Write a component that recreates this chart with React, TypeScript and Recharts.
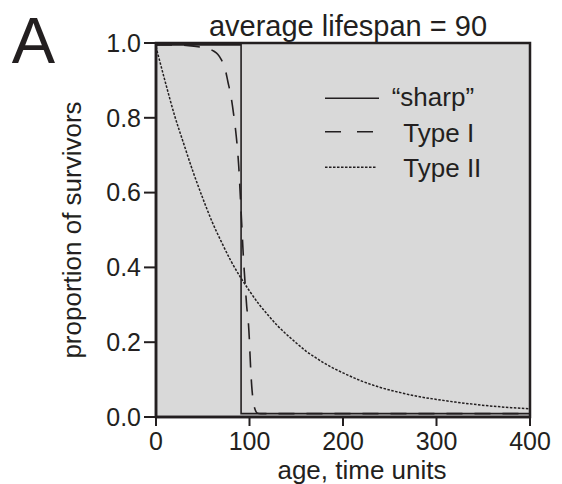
import React from 'react';
import { LineChart, Line, XAxis, YAxis, ReferenceArea, Legend } from 'recharts';

const INK = '#231f20';
const PANEL = '#d9d9d9';
const FONT = '"Liberation Sans", Arial, Helvetica, sans-serif';

const chartTitle = 'average lifespan = 90';
const panelLetter = 'A';
const xAxisTitle = 'age, time units';
const yAxisTitle = 'proportion of survivors';
const seriesNames = ['\u201Csharp\u201D', 'Type I', 'Type II'];

const xTicks = [0, 100, 200, 300, 400];
const yTicks = [0, 0.2, 0.4, 0.6, 0.8, 1.0];

const sharpAges = [0, 91, 91, 400];
const sharpSurvivors = [0.995, 0.995, 0.009, 0.009];

const typeIAges = [0, 20, 35, 45, 55, 62, 66, 70, 74, 77, 80, 83, 85, 87, 88.5, 90, 91.6, 93.4, 95.5, 97, 98.7, 99.8, 100.5, 101.3, 102.4, 104, 106, 108, 112, 400];
const typeISurvivors = [0.995, 0.995, 0.993, 0.99, 0.985, 0.978, 0.97, 0.955, 0.93, 0.895, 0.86, 0.81, 0.77, 0.72, 0.67, 0.6, 0.52, 0.43, 0.35, 0.296, 0.256, 0.21, 0.17, 0.127, 0.082, 0.042, 0.02, 0.011, 0.009, 0.009];

const typeIIAges = [0, 10, 20, 30, 40, 50, 60, 70, 80, 90, 100, 110, 120, 130, 140, 150, 160, 170, 180, 190, 200, 220, 240, 260, 280, 300, 320, 340, 360, 380, 400];
const typeIISurvivors = [0.99, 0.895, 0.805, 0.728, 0.653, 0.585, 0.522, 0.468, 0.418, 0.375, 0.337, 0.302, 0.272, 0.244, 0.22, 0.198, 0.177, 0.16, 0.144, 0.13, 0.118, 0.096, 0.079, 0.066, 0.055, 0.047, 0.04, 0.034, 0.029, 0.025, 0.022];

const zip = (ages: number[], values: number[]) => ages.map((age, i) => ({ age, value: values[i] }));

const sharpData = zip(sharpAges, sharpSurvivors);
const typeIData = zip(typeIAges, typeISurvivors);
const typeIIData = zip(typeIIAges, typeIISurvivors);

const dashes = ['', '16 16', '2.5 1.5'];

const renderLegend = () => (
  <svg width={230} height={120} style={{ display: 'block', overflow: 'visible' }}>
    {seriesNames.map((name, i) => {
      const lineY = [28.3, 61.7, 97.3][i];
      const lineEnd = [79, 74, 76.7][i];
      const textX = [91.7, 103.3, 103.3][i];
      const textY = [36, 71.7, 106.7][i];
      return (
        <g key={name}>
          <line x1={25} x2={lineEnd} y1={lineY} y2={lineY} stroke={INK} strokeWidth={1.6} strokeDasharray={dashes[i] || undefined} />
          <text x={textX} y={textY} fill={INK} fontSize={26} fontFamily={FONT}>{name}</text>
        </g>
      );
    })}
  </svg>
);

export default function App() {
  return (
    <div style={{ position: 'relative', width: 562, height: 484, background: '#fff' }}>
      <style>{`body{margin:0;}`}</style>
      <LineChart width={562} height={484} margin={{ top: 43, right: 32, bottom: 0, left: 0 }}>
        <XAxis
          dataKey="age"
          type="number"
          domain={[0, 400]}
          ticks={xTicks}
          interval={0}
          allowDuplicatedCategory={false}
          height={67}
          tickSize={9}
          tickMargin={6}
          axisLine={{ stroke: INK, strokeWidth: 2.5 }}
          tickLine={{ stroke: INK, strokeWidth: 2 }}
          tick={{ fill: INK, fontSize: 25, fontFamily: FONT }}
          label={{
            content: (props: any) => {
              const vb = props.viewBox || {};
              return (
                <text x={vb.x + vb.width / 2 + 19} y={vb.y + 62} textAnchor="middle" fill={INK} fontSize={26} fontFamily={FONT}>
                  {xAxisTitle}
                </text>
              );
            },
          }}
        />
        <YAxis
          type="number"
          domain={[0, 1]}
          ticks={yTicks}
          interval={0}
          width={156}
          tickSize={12}
          tickMargin={3}
          tickFormatter={(v: number) => v.toFixed(1)}
          axisLine={{ stroke: INK, strokeWidth: 2.5 }}
          tickLine={{ stroke: INK, strokeWidth: 2 }}
          tick={{ fill: INK, fontSize: 25, fontFamily: FONT }}
          label={{
            content: (props: any) => {
              const vb = props.viewBox || {};
              const cy = vb.y + vb.height / 2;
              return (
                <text x={81} y={cy} transform={`rotate(-90 81 ${cy})`} textAnchor="middle" fill={INK} fontSize={26} fontFamily={FONT}>
                  {yAxisTitle}
                </text>
              );
            },
          }}
        />
        <ReferenceArea x1={0} x2={400} y1={0} y2={1} fill={PANEL} fillOpacity={1} stroke={INK} strokeWidth={2.5} strokeOpacity={1} ifOverflow="visible" />
        <Line data={sharpData} dataKey="value" name={seriesNames[0]} type="linear" stroke={INK} strokeWidth={1.6} dot={false} activeDot={false} isAnimationActive={false} />
        <Line data={typeIData} dataKey="value" name={seriesNames[1]} type="monotone" stroke={INK} strokeWidth={1.6} strokeDasharray="16 12" dot={false} activeDot={false} isAnimationActive={false} />
        <Line data={typeIIData} dataKey="value" name={seriesNames[2]} type="monotone" stroke={INK} strokeWidth={1.5} strokeDasharray="2.5 1.5" dot={false} activeDot={false} isAnimationActive={false} />
        <Legend
          layout="vertical"
          align="center"
          verticalAlign="middle"
          content={renderLegend}
          wrapperStyle={{ position: 'absolute', left: 300, top: 70, width: 230, height: 120 }}
        />
      </LineChart>
      <svg width={562} height={484} style={{ position: 'absolute', left: 0, top: 0, pointerEvents: 'none' }}>
        <text x={11.7} y={63.3} fill={INK} fontSize={65} fontFamily={FONT}>{panelLetter}</text>
        <text x={348} y={36} textAnchor="middle" fill={INK} fontSize={29} fontFamily={FONT}>{chartTitle}</text>
      </svg>
    </div>
  );
}
